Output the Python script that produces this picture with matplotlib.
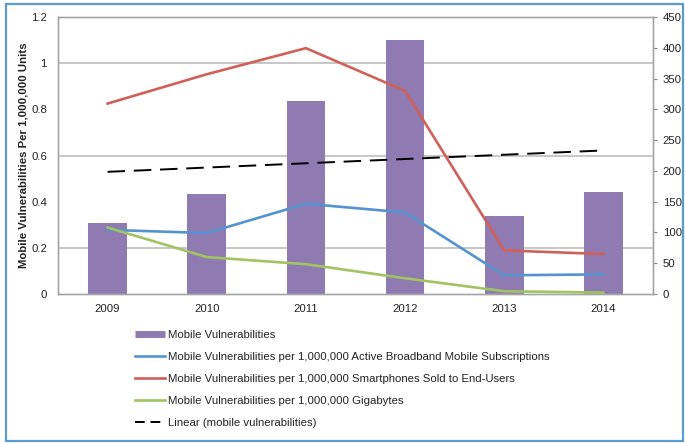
import numpy as np
import matplotlib
matplotlib.use('Agg')
from matplotlib import pyplot as plt
from matplotlib.lines import Line2D
from matplotlib.patches import Rectangle

plt.rcParams['font.family'] = ['Liberation Sans', 'DejaVu Sans']

years = ['2009', '2010', '2011', '2012', '2013', '2014']
vulns = [115, 163, 313, 412, 126, 166]
per_broadband = [0.278, 0.264, 0.391, 0.353, 0.081, 0.085]
per_smartphone = [0.825, 0.952, 1.065, 0.88, 0.189, 0.173]
per_gigabyte = [0.288, 0.16, 0.129, 0.068, 0.012, 0.006]

c_bar = '#8F7AB2'
c_blue = '#5592D0'
c_red = '#D0605A'
c_green = '#A0C460'
c_grid = '#BDBDBD'
txt = '#222222'
fs = 8.2

fig = plt.figure(figsize=(6.85, 4.44), dpi=100)
ax2 = fig.add_axes([58 / 685, 1 - 294 / 444, 595 / 685, 277 / 444])
ax = ax2.twinx()
ax.yaxis.tick_left()
ax.yaxis.set_label_position('left')
ax2.yaxis.tick_right()
ax.set_zorder(ax2.get_zorder() + 1)
ax.patch.set_visible(False)

x = np.arange(len(years))

# bars + trend on right scale
ax2.bar(x, vulns, width=0.39, color=c_bar, zorder=2)
k, b = np.polyfit(x, vulns, 1)
ax2.plot(x, k * x + b, color='black', lw=1.4, dashes=(9, 4.5), zorder=3)
ax2.set_ylim(0, 450)
ax2.set_yticks(range(0, 451, 50))
# gridlines follow the left axis ticks (0.2 steps = 75 units)
ax2.set_yticks(range(75, 451, 75), minor=True)
ax2.grid(True, which='minor', axis='y', color=c_grid, lw=1.2, zorder=0)
ax2.set_axisbelow(True)
ax2.tick_params(axis='y', which='minor', length=0)
ax2.tick_params(axis='y', which='major', length=3, color='#888888', pad=4,
                labelsize=fs, labelcolor=txt)
ax2.tick_params(axis='x', length=0, pad=7, labelsize=fs, labelcolor=txt)
ax2.set_xticks(x)
ax2.set_xticklabels(years)
ax2.set_xlim(-0.5, 5.5)

# lines on left scale
ax.plot(x, per_broadband, color=c_blue, lw=1.9, zorder=4)
ax.plot(x, per_smartphone, color=c_red, lw=1.9, zorder=4)
ax.plot(x, per_gigabyte, color=c_green, lw=1.9, zorder=4)
ax.set_ylim(0, 1.2)
ax.set_yticks([0, 0.2, 0.4, 0.6, 0.8, 1, 1.2])
ax.set_yticklabels(['0', '0.2', '0.4', '0.6', '0.8', '1', '1.2'])
ax.tick_params(axis='y', length=0, pad=8, labelsize=fs, labelcolor=txt)
ax.set_ylabel('Mobile Vulnerabilities Per 1,000,000 Units', fontsize=fs,
              fontweight='bold', color=txt, labelpad=2)

for a in (ax, ax2):
    for s in a.spines.values():
        s.set_color('#A6A6A6')
        s.set_linewidth(1.0)

handles = [
    Line2D([], [], color=c_bar, lw=5, solid_capstyle='butt'),
    Line2D([], [], color=c_blue, lw=1.9),
    Line2D([], [], color=c_red, lw=1.9),
    Line2D([], [], color=c_green, lw=1.9),
    Line2D([], [], color='black', lw=1.4, dashes=(5, 3)),
]
labels = [
    'Mobile Vulnerabilities',
    'Mobile Vulnerabilities per 1,000,000 Active Broadband Mobile Subscriptions',
    'Mobile Vulnerabilities per 1,000,000 Smartphones Sold to End-Users',
    'Mobile Vulnerabilities per 1,000,000 Gigabytes',
    'Linear (mobile vulnerabilities)',
]
leg = fig.legend(handles, labels, loc='upper left', bbox_to_anchor=(125 / 685, 1 - 320 / 444),
                 frameon=False, fontsize=fs, labelspacing=1.05, handlelength=2.6,
                 handletextpad=0.3)
for t in leg.get_texts():
    t.set_color(txt)

fig.patches.append(Rectangle((6 / 685, 3 / 444), 677 / 685, 437 / 444,
                             transform=fig.transFigure, fill=False,
                             edgecolor='#5A9BD0', lw=1.6))

fig.savefig('out.png', dpi=100)
